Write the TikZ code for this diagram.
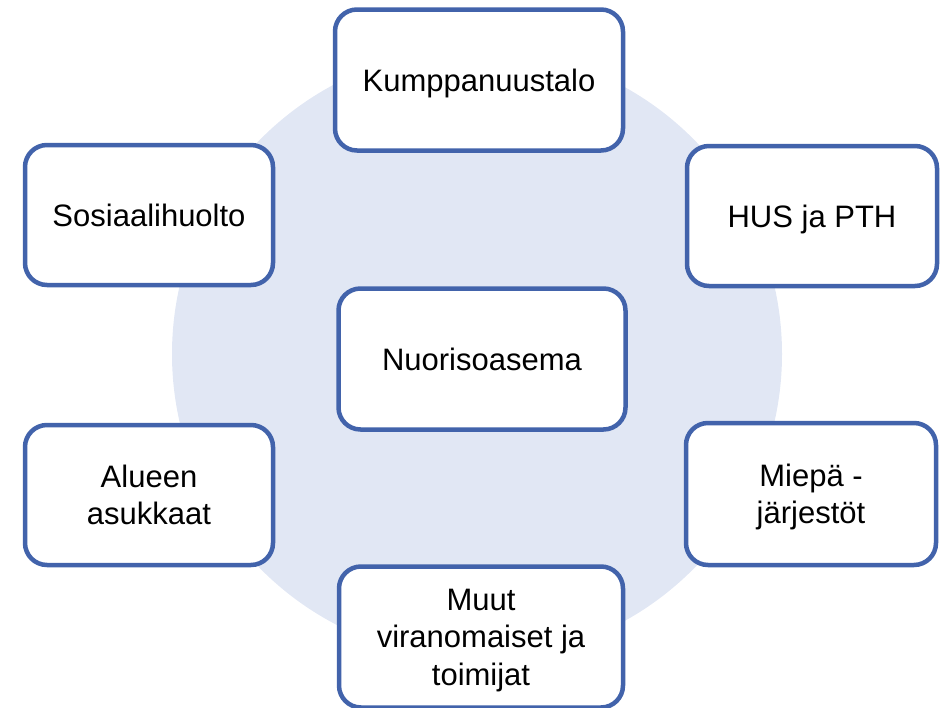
\documentclass[tikz,border=0pt]{standalone}
\usepackage{fontspec}
\setmainfont{Liberation Sans}
\definecolor{boxblue}{HTML}{4263AB}
\definecolor{ringfill}{HTML}{E1E7F4}

\begin{document}
\begin{tikzpicture}[x=1pt, y=-1pt,
    partner/.style={draw=boxblue, line width=4.5pt, fill=white, rounded corners=22pt,
        align=center, inner sep=0pt, text depth=0pt, font=\fontsize{31}{37.5}\selectfont}]
    \useasboundingbox (0, 0) rectangle (948, 707);
    \fill [ringfill] (477, 354) circle (305);
    \node [partner, minimum width=288, minimum height=141] (kumppanuustalo) at (479, 80) {Kumppanuustalo};
    \node [partner, minimum width=248, minimum height=140] (sosiaalihuolto) at (149, 215) {Sosiaalihuolto};
    \node [partner, minimum width=250, minimum height=140] (hus) at (812, 216) {HUS ja PTH};
    \node [partner, minimum width=287, minimum height=141] (nuorisoasema) at (482, 359) {Nuorisoasema};
    \node [partner, minimum width=248, minimum height=140] (asukkaat) at (149, 495) {Alueen\\asukkaat};
    \node [partner, minimum width=250, minimum height=142] (miepa) at (811, 494) {Miepä -\\järjestöt};
    \node [partner, minimum width=284, minimum height=141] (muut) at (481, 637) {Muut\\viranomaiset ja\\toimijat};
\end{tikzpicture}
\end{document}
